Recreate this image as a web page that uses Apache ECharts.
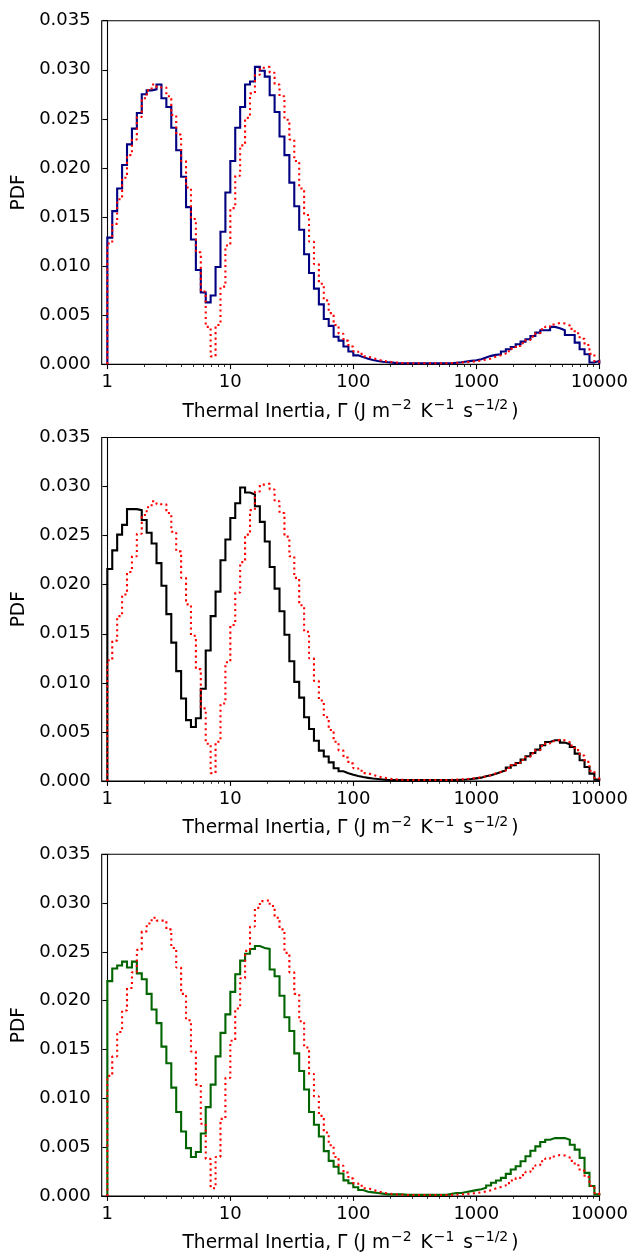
<!DOCTYPE html>
<html>
<head>
<meta charset="utf-8">
<script src="https://cdn.jsdelivr.net/npm/echarts@6/dist/echarts.min.js"></script>
<style>
html,body{margin:0;padding:0;background:#fff;}
#chart{width:631px;height:1254px;}
</style>
</head>
<body>
<div id="chart"></div>
<script>
// ---- Histogram binning (log-spaced bins from 1 to 10000) ----
const BIN_LO = 1;
const BIN_HI = 10000;
const N_BINS = 100;

// ---- Axis ticks ----
const xTickValues = [1, 10, 100, 1000, 10000];
const xTickLabels = ['1', '10', '100', '1000', '10000'];
const yTickValues = [0, 0.005, 0.010, 0.015, 0.020, 0.025, 0.030, 0.035];

// ---- Reference distribution (red dotted, same in all panels) ----
const refPDF = [
  0.0123, 0.0143, 0.0168, 0.0190, 0.0213, 0.0229, 0.0252, 0.0271, 0.0279, 0.0285,
  0.0282, 0.0282, 0.0273, 0.0254, 0.0234, 0.0207, 0.0180, 0.0148, 0.0114, 0.0074,
  0.0038, 0.0008, 0.0040, 0.0079, 0.0121, 0.0159, 0.0192, 0.0223, 0.0251, 0.0276,
  0.0295, 0.0302, 0.0303, 0.0297, 0.0285, 0.0273, 0.0249, 0.0229, 0.0207, 0.0179,
  0.0152, 0.0125, 0.0102, 0.0082, 0.0065, 0.0052, 0.0040, 0.0031, 0.0024, 0.0018,
  0.0013, 0.00105, 0.0008, 0.00062, 0.00048, 0.00035, 0.00027, 0.0002, 0.00016, 0.00013,
  0.0001, 0.0001, 0.0001, 0.0001, 0.0001, 0.0001, 0.0001, 0.0001, 0.0001, 0.00012,
  0.00014, 0.00017, 0.0002, 0.00025, 0.0003, 0.00037, 0.00047, 0.00058, 0.00078, 0.00092,
  0.00108, 0.00132, 0.00159, 0.00186, 0.00214, 0.00247, 0.00281, 0.00315, 0.00356, 0.00383,
  0.00405, 0.0042, 0.00415, 0.00395, 0.0036, 0.00315, 0.0026, 0.00195, 0.00105, 0.0003
];

// ---- Panel 1 (navy) ----
const navyPDF = [
  0.0129, 0.0156, 0.0179, 0.0203, 0.0224, 0.0240, 0.0256, 0.0275, 0.0279, 0.0280,
  0.0285, 0.0271, 0.0262, 0.0241, 0.0218, 0.0191, 0.0160, 0.0127, 0.0096, 0.0073,
  0.0063, 0.0070, 0.0099, 0.0135, 0.0175, 0.0207, 0.0241, 0.0262, 0.0285, 0.0288,
  0.0303, 0.0299, 0.0293, 0.0274, 0.0257, 0.0232, 0.0213, 0.0185, 0.0161, 0.0137,
  0.0112, 0.0093, 0.0077, 0.0061, 0.0046, 0.0039, 0.0028, 0.0024, 0.0018, 0.0013,
  0.0009, 0.00072, 0.00055, 0.00043, 0.00033, 0.00025, 0.0002, 0.00016, 0.0001, 0.0001,
  0.0001, 0.0001, 0.0001, 0.0001, 0.0001, 0.0001, 0.0001, 0.0001, 0.0001, 0.0001,
  0.00015, 0.0002, 0.00027, 0.00034, 0.00041, 0.00051, 0.00068, 0.00085, 0.00095, 0.00102,
  0.00129, 0.00153, 0.00176, 0.00203, 0.0023, 0.00254, 0.00288, 0.00322, 0.00346, 0.00346,
  0.0038, 0.00366, 0.00346, 0.00298, 0.00298, 0.0022, 0.00153, 0.00102, 0.00017, 0.00034
];

// ---- Panel 2 (black) ----
const blackPDF = [
  0.0216, 0.0235, 0.0251, 0.0261, 0.0277, 0.0277, 0.0276, 0.0266, 0.0253, 0.0242,
  0.0222, 0.0199, 0.0170, 0.0141, 0.0112, 0.0084, 0.0062, 0.0055, 0.0064, 0.0094,
  0.0133, 0.0168, 0.0193, 0.0225, 0.0246, 0.0268, 0.0283, 0.0299, 0.0294, 0.0292,
  0.0280, 0.0264, 0.0244, 0.0218, 0.0196, 0.0173, 0.0149, 0.0122, 0.0101, 0.0085,
  0.0065, 0.0053, 0.0041, 0.0031, 0.0025, 0.0019, 0.0013, 0.0010, 0.0008, 0.00063,
  0.0005, 0.0004, 0.00032, 0.00025, 0.0002, 0.00015, 0.0001, 0.0001, 0.0001, 0.0001,
  0.0001, 0.0001, 0.0001, 0.0001, 0.0001, 0.0001, 0.0001, 0.0001, 0.0001, 0.0001,
  0.0001, 0.00012, 0.00015, 0.0002, 0.00027, 0.00034, 0.00048, 0.00058, 0.00075, 0.00092,
  0.00109, 0.00136, 0.0016, 0.00184, 0.00218, 0.00252, 0.00286, 0.0032, 0.00364, 0.00398,
  0.00415, 0.00415, 0.00391, 0.00374, 0.00347, 0.00279, 0.00211, 0.00143, 0.00075, 0.00014
];

// ---- Panel 3 (green) ----
const greenPDF = [
  0.0220, 0.0233, 0.0236, 0.0240, 0.0234, 0.0240, 0.0228, 0.0222, 0.0207, 0.0191,
  0.0177, 0.0153, 0.0136, 0.0111, 0.0086, 0.0066, 0.0049, 0.0040, 0.0045, 0.0064,
  0.0091, 0.0114, 0.0143, 0.0167, 0.0186, 0.0209, 0.0227, 0.0241, 0.0248, 0.0253,
  0.0256, 0.0254, 0.0253, 0.0232, 0.0225, 0.0205, 0.0183, 0.0169, 0.0146, 0.0128,
  0.0109, 0.0086, 0.0073, 0.0061, 0.0046, 0.0036, 0.0030, 0.0023, 0.0016, 0.0013,
  0.0009, 0.00061, 0.00044, 0.00037, 0.0003, 0.00024, 0.00017, 0.00017, 0.00017, 0.00017,
  0.00012, 0.00012, 0.00012, 0.00012, 0.00012, 0.00012, 0.00012, 0.00012, 0.00012, 0.00022,
  0.0003, 0.0003, 0.0004, 0.0005, 0.0006, 0.0007, 0.00085, 0.00108, 0.00136, 0.00159,
  0.00186, 0.00227, 0.00271, 0.00305, 0.00356, 0.00407, 0.00464, 0.00508, 0.00553, 0.00576,
  0.00593, 0.00593, 0.00593, 0.00576, 0.00525, 0.00475, 0.0039, 0.00237, 0.00102, 0.00017
];

const panelSeries = [navyPDF, blackPDF, greenPDF];
const panelColors = ['#000080', '#000000', '#006400'];
const refColor = '#ff0000';

// ---- Layout ----
const X_MIN = 0.9;
const panelTops = [20.7, 437.5, 854.2];
const PANEL_H = 343.5;
const FONT = 'DejaVu Sans';
const FS = 18;
const LFS = 18.6;

const lgLo = Math.log10(BIN_LO), lgHi = Math.log10(BIN_HI);
const edges = [];
for (let k = 0; k <= N_BINS; k++) edges.push(lgLo + k * (lgHi - lgLo) / N_BINS);

function stepPoints(values) {
  const pts = [[edges[0], 0]];
  values.forEach((v, k) => { pts.push([edges[k], v]); pts.push([edges[k + 1], v]); });
  pts.push([edges[N_BINS], 0]);
  return pts;
}

const majorX = xTickValues.map(Math.log10);
const minorX = [];
for (let d = 0; d < 4; d++) for (let m = 2; m <= 9; m++) minorX.push(Math.log10(m * Math.pow(10, d)));

function xLabel(v) {
  const i = majorX.findIndex(t => Math.abs(t - v) < 1e-6);
  return i >= 0 ? xTickLabels[i] : '';
}

const axisLineStyle = { color: '#000', width: 1.1 };
const grids = [], xAxes = [], yAxes = [], series = [];

panelTops.forEach((top, i) => {
  grids.push({ left: 101.7, right: 31.7, top: top, height: PANEL_H, show: true,
    borderColor: '#000', borderWidth: 1.1, backgroundColor: 'transparent' });
});

panelTops.forEach((top, i) => {
  xAxes.push({
    type: 'value', gridIndex: i, min: Math.log10(X_MIN), max: lgHi, position: 'bottom',
    axisLine: { show: true, onZero: false, lineStyle: axisLineStyle },
    axisTick: { show: true, customValues: majorX, length: 4.9, lineStyle: axisLineStyle },
    axisLabel: { show: true, customValues: majorX, formatter: xLabel, color: '#000',
      fontFamily: FONT, fontSize: FS, margin: 9 },
    splitLine: { show: false },
    name: '{b|Thermal Inertia, Γ (J m}{s|−2}{b| K}{s|−1}{b| s}{s|−1/2}{b|)}',
    nameLocation: 'middle', nameGap: 35,
    nameTextStyle: {
      color: '#000', fontFamily: FONT,
      rich: {
        b: { fontFamily: FONT, fontSize: LFS, color: '#000', lineHeight: 22, verticalAlign: 'bottom' },
        s: { fontFamily: FONT, fontSize: 14, color: '#000', lineHeight: 14, verticalAlign: 'bottom', padding: [0, 3, 9, 1] }
      }
    }
  });
});
panelTops.forEach((top, i) => {
  xAxes.push({
    type: 'value', gridIndex: i, min: Math.log10(X_MIN), max: lgHi, position: 'bottom',
    axisLine: { show: false, onZero: false },
    axisTick: { show: true, customValues: minorX, length: 2.8, lineStyle: { color: '#000', width: 0.8 } },
    axisLabel: { show: false },
    splitLine: { show: false }
  });
});
panelTops.forEach((top, i) => {
  yAxes.push({
    type: 'value', gridIndex: i, min: 0, max: 0.035, interval: 0.005,
    axisLine: { show: true, lineStyle: axisLineStyle },
    axisTick: { show: true, length: 4.9, lineStyle: axisLineStyle },
    axisLabel: { formatter: v => v.toFixed(3), color: '#000', fontFamily: FONT, fontSize: FS, margin: 11 },
    splitLine: { show: false },
    name: 'PDF', nameLocation: 'middle', nameGap: 71, nameRotate: 90,
    nameTextStyle: { color: '#000', fontFamily: FONT, fontSize: LFS }
  });
});

panelSeries.forEach((vals, i) => {
  series.push({
    type: 'line', xAxisIndex: i, yAxisIndex: i, data: stepPoints(vals),
    showSymbol: false, symbol: 'none', silent: true, z: 2,
    lineStyle: { color: panelColors[i], width: 2.1, join: 'miter' }
  });
  series.push({
    type: 'line', xAxisIndex: i, yAxisIndex: i, data: stepPoints(refPDF),
    showSymbol: false, symbol: 'none', silent: true, z: 3,
    lineStyle: { color: refColor, width: 2.1, type: [2.1, 3.4], cap: 'butt' }
  });
});

const chart = echarts.init(document.getElementById('chart'), null, { renderer: 'canvas' });
chart.setOption({
  animation: false,
  backgroundColor: '#fff',
  textStyle: { fontFamily: FONT },
  grid: grids, xAxis: xAxes, yAxis: yAxes, series: series
});
</script>
</body>
</html>
